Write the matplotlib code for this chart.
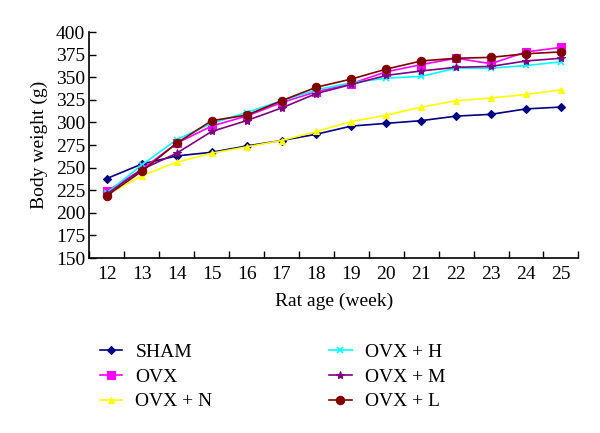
import matplotlib
matplotlib.use('Agg')
import matplotlib.pyplot as plt
import numpy as np

plt.rcParams['font.family'] = ['Liberation Serif', 'DejaVu Serif']

# Rat age (weeks)
weeks = [12, 13, 14, 15, 16, 17, 18, 19, 20, 21, 22, 23, 24, 25]

# Body weight (g) per group
sham = [238, 254, 263, 267, 274, 280, 287, 296, 299, 302, 307, 309, 315, 317]
ovx = [224, 248, 277, 296, 307, 322, 334, 343, 356, 364, 371, 365, 378, 383]
ovx_n = [220, 241, 256, 266, 273, 280, 290, 301, 308, 317, 324, 327, 331, 336]
ovx_h = [222, 253, 281, 299, 311, 324, 336, 344, 349, 351, 360, 360, 363, 367]
ovx_m = [221, 248, 266, 290, 302, 316, 332, 342, 352, 357, 361, 362, 368, 371]
ovx_l = [219, 246, 277, 302, 308, 324, 339, 348, 359, 368, 371, 372, 376, 378]

labels = ['SHAM', 'OVX', 'OVX + N', 'OVX + H', 'OVX + M', 'OVX + L']
series = [sham, ovx, ovx_n, ovx_h, ovx_m, ovx_l]
colors = ['#000080', '#FF00FF', '#FFFF00', '#00FFFF', '#800080', '#800000']
markers = ['D', 's', '^', 'x', '*', 'o']
msizes = [4, 6, 5, 5, 6, 6]

fig = plt.figure(figsize=(6, 4.33), dpi=100)
ax = fig.add_axes([0.149, 0.404, 0.815, 0.522])

x = np.arange(len(weeks))
for vals, lab, c, m, ms in zip(series, labels, colors, markers, msizes):
    ax.plot(x, vals, color=c, marker=m, markersize=ms, linewidth=1.2,
            markeredgewidth=1.2 if m == 'x' else 0.8, label=lab)

ax.set_xlim(-0.5, len(weeks) - 0.5)
ax.set_ylim(150, 400)
ax.set_yticks(range(150, 401, 25))

# category axis: ticks between categories, labels centred
ax.set_xticks(np.arange(-0.5, len(weeks), 1.0))
ax.set_xticklabels([])
ax.set_xticks(x, minor=True)
ax.set_xticklabels([str(w) for w in weeks], minor=True)
ax.tick_params(axis='x', which='major', direction='in', length=5, width=1)
ax.tick_params(axis='x', which='minor', length=0, pad=6, labelsize=14)
ax.tick_params(axis='y', direction='in', length=5, width=1, labelsize=14, pad=3)

for s in ['top', 'right']:
    ax.spines[s].set_visible(False)
for s in ['left', 'bottom']:
    ax.spines[s].set_linewidth(1.2)

ax.set_ylabel('Body weight (g)', fontsize=14, labelpad=6)
ax.set_xlabel('Rat age (week)', fontsize=14, labelpad=7)

fig.legend(loc='upper left', bbox_to_anchor=(0.1375, 0.247), ncol=2,
           frameon=False, fontsize=14, handlelength=1.15, handletextpad=0.67,
           columnspacing=6.0, labelspacing=0.36)

fig.savefig('out.png', dpi=100)
